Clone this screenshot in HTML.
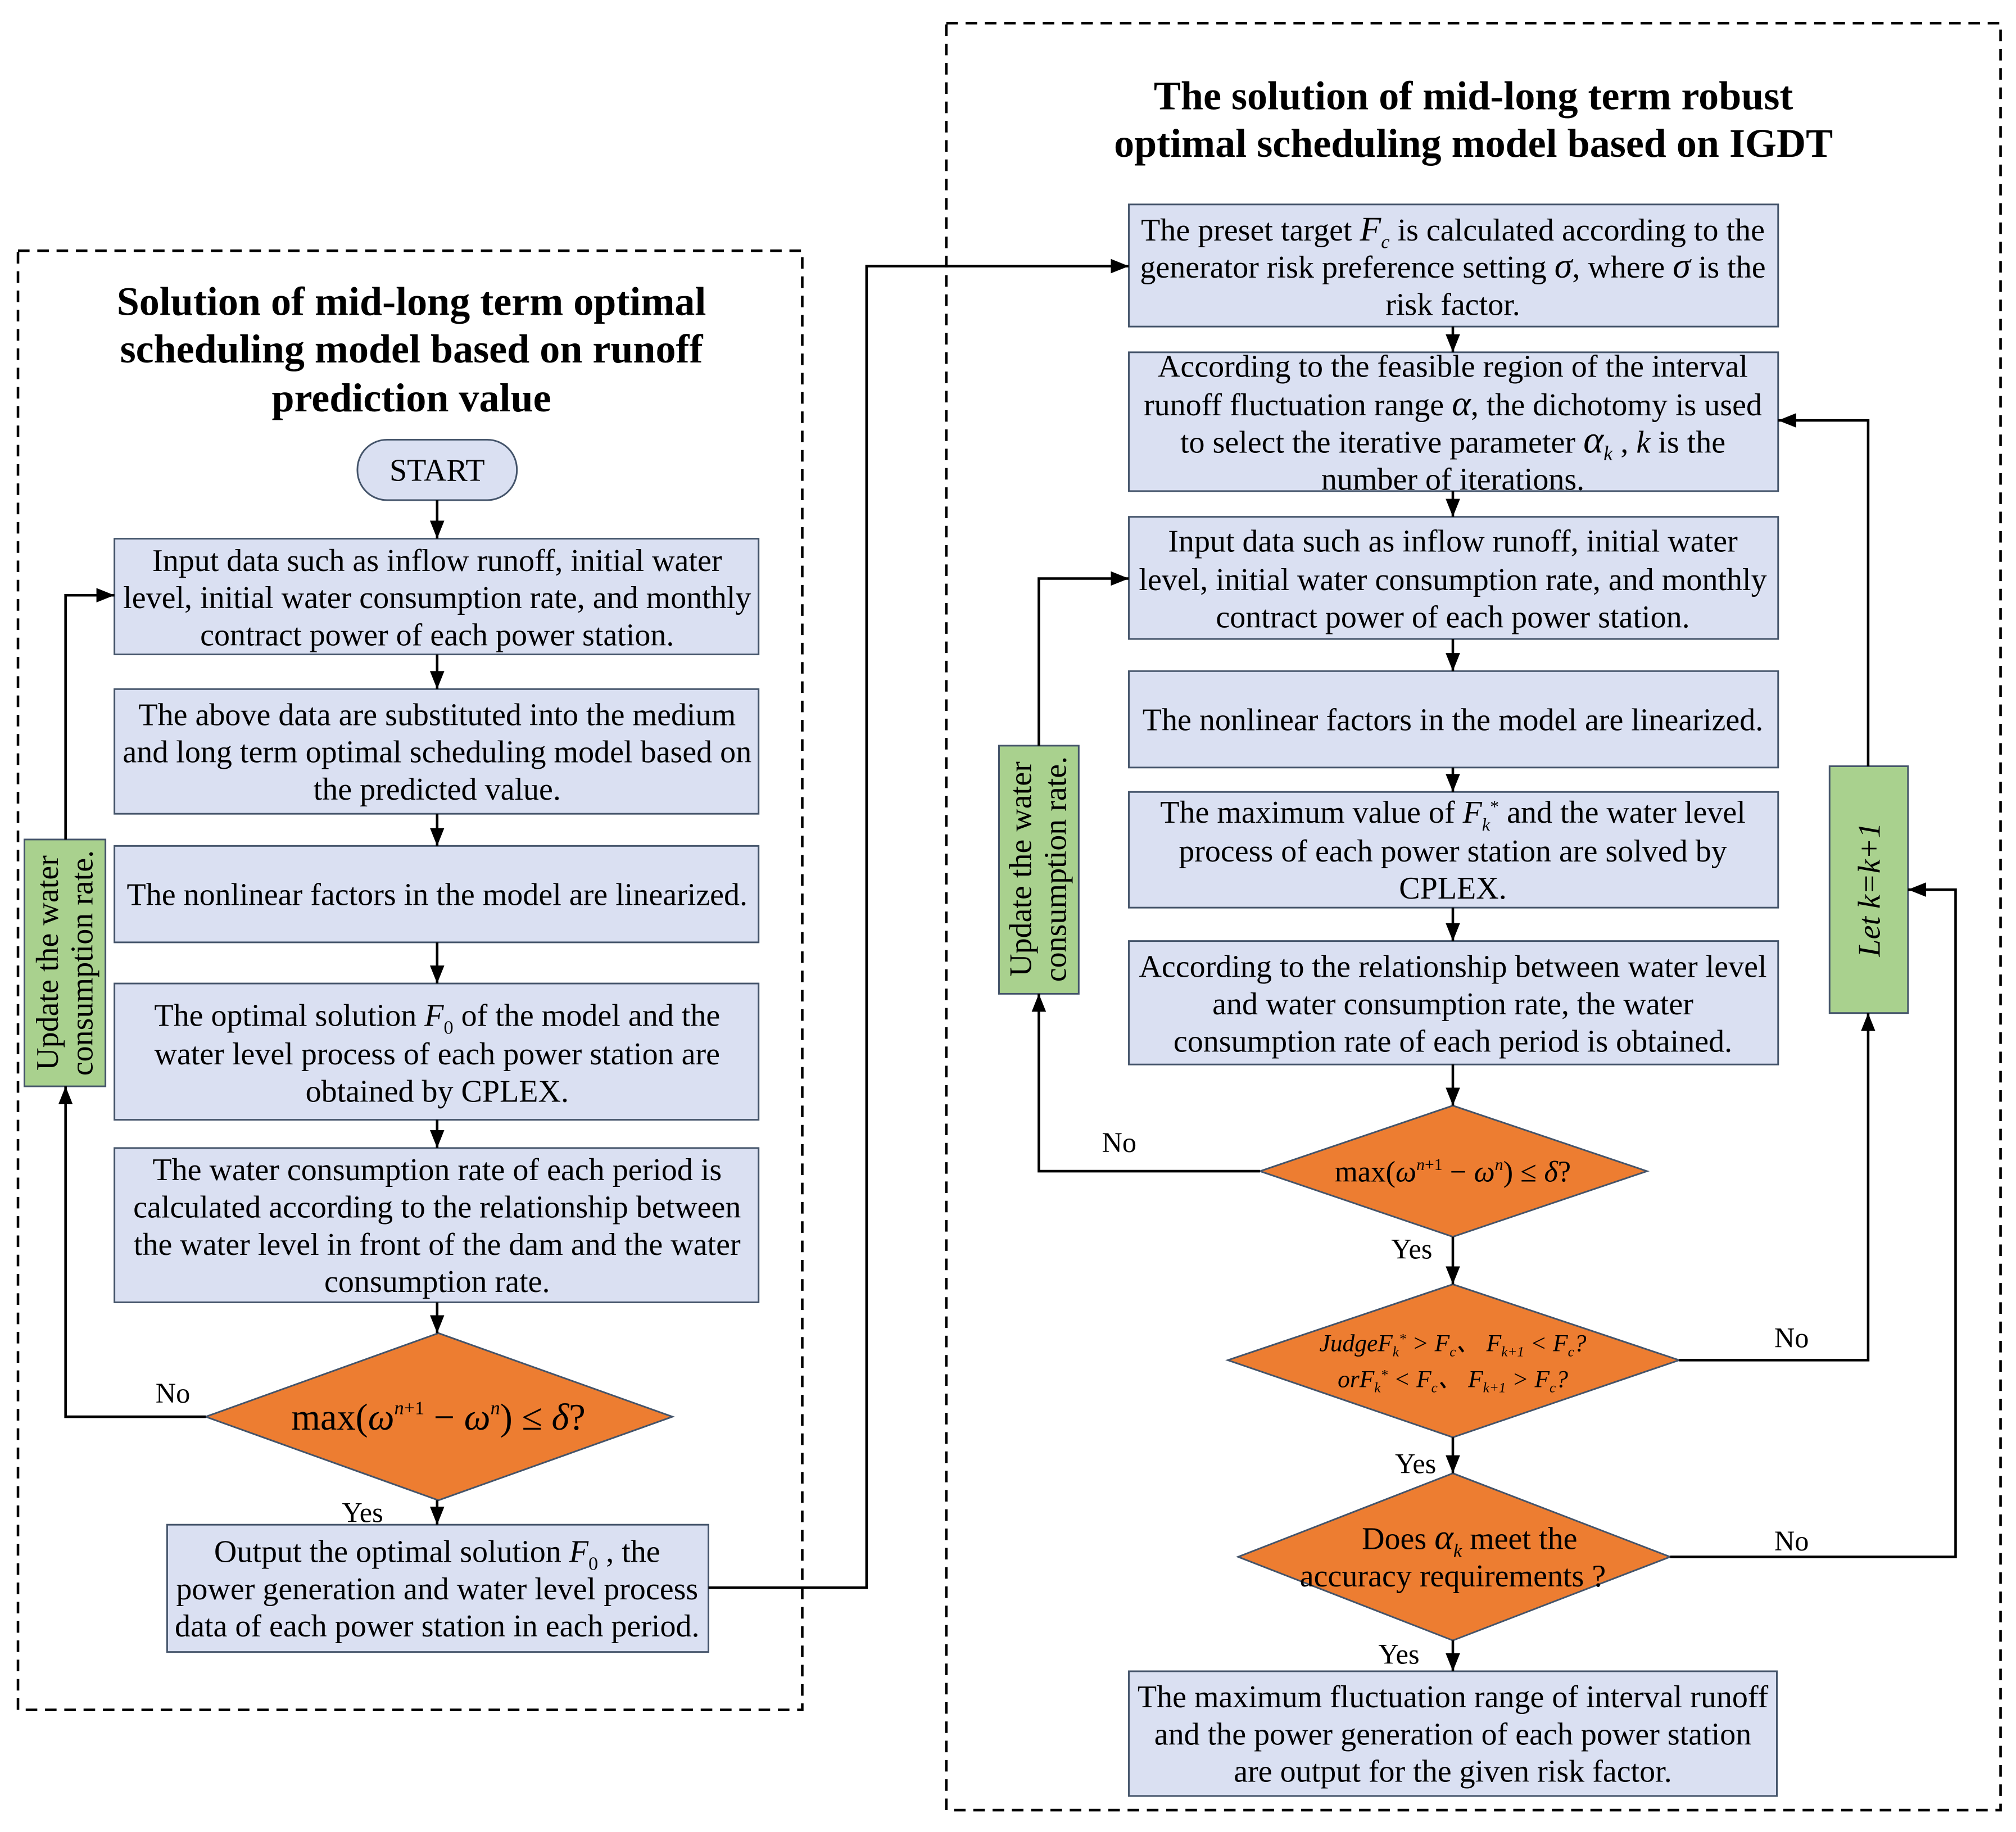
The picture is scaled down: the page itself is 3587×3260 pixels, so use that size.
<!DOCTYPE html>
<html><head><meta charset="utf-8"><style>
html,body{margin:0;padding:0;background:#fff}
svg{display:block}
text{font-family:"Liberation Serif",serif;fill:#000}
.t{font-size:24.5px}
.b{fill:#dae0f2;stroke:#44546a;stroke-width:1.3}
.o{fill:#ed7d31;stroke:#44546a;stroke-width:1.3}
.g{fill:#a9d18e;stroke:#44546a;stroke-width:1.3}
.l{fill:none;stroke:#000;stroke-width:2}
.h{font-size:31.5px;font-weight:bold}
</style></head><body>
<svg width="3587" height="3260" viewBox="0 0 1568 1425" xmlns="http://www.w3.org/2000/svg">
<defs><marker id="a" viewBox="0 0 10 10" refX="10" refY="5" markerWidth="7" markerHeight="7" orient="auto"><path d="M0,1 L10,5 L0,9 z" fill="#000"/></marker></defs>
<rect x="14" y="195" width="610" height="1135" fill="none" stroke="#000" stroke-width="2" stroke-dasharray="9,6"/>
<rect x="736" y="18" width="820" height="1390" fill="none" stroke="#000" stroke-width="2" stroke-dasharray="9,6"/>
<g text-anchor="middle">
<text class="h" x="320" y="245">Solution of mid-long term optimal</text>
<text class="h" x="320" y="282">scheduling model based on runoff</text>
<text class="h" x="320" y="320">prediction value</text>
<text class="h" x="1146" y="85">The solution of mid-long term robust</text>
<text class="h" x="1146" y="122">optimal scheduling model based on IGDT</text>

<rect x="278" y="342" width="124" height="47" rx="23" class="b"/>
<text class="t" x="340" y="374">START</text>
<rect x="89" y="419" width="501" height="90" class="b"/>
<text class="t" x="340" y="444">Input data such as inflow runoff, initial water</text>
<text class="t" x="340" y="473">level, initial water consumption rate, and monthly</text>
<text class="t" x="340" y="502">contract power of each power station.</text>
<rect x="89" y="536" width="501" height="97" class="b"/>
<text class="t" x="340" y="564">The above data are substituted into the medium</text>
<text class="t" x="340" y="593">and long term optimal scheduling model based on</text>
<text class="t" x="340" y="622">the predicted value.</text>
<rect x="89" y="658" width="501" height="75" class="b"/>
<text class="t" x="340" y="704">The nonlinear factors in the model are linearized.</text>
<rect x="89" y="765" width="501" height="106" class="b"/>
<text class="t" x="340" y="798">The optimal solution <tspan font-style="italic">F</tspan><tspan font-size="15" dy="6">0</tspan><tspan dy="-6">  of the model and the</tspan></text>
<text class="t" x="340" y="828">water level process of each power station are</text>
<text class="t" x="340" y="857">obtained by CPLEX.</text>
<rect x="89" y="893" width="501" height="120" class="b"/>
<text class="t" x="340" y="918">The water consumption rate of each period is</text>
<text class="t" x="340" y="947">calculated according to the relationship between</text>
<text class="t" x="340" y="976">the water level in front of the dam and the water</text>
<text class="t" x="340" y="1005">consumption rate.</text>
<polygon points="341,1037 523,1102 341,1167 160,1102" class="o"/>
<text x="341" y="1112" font-size="29">max(<tspan font-style="italic">ω</tspan><tspan font-size="15" dy="-12" font-style="italic">n</tspan><tspan font-size="15">+1</tspan><tspan dy="12"> − </tspan><tspan font-style="italic">ω</tspan><tspan font-size="15" dy="-12" font-style="italic">n</tspan><tspan dy="12">) ≤ </tspan><tspan font-style="italic">δ</tspan>?</text>
<rect x="130" y="1186" width="421" height="99" class="b"/>
<text class="t" x="340" y="1215">Output the optimal solution <tspan font-style="italic">F</tspan><tspan font-size="15" dy="6">0</tspan><tspan dy="-6"> , the</tspan></text>
<text class="t" x="340" y="1244">power generation and water level process</text>
<text class="t" x="340" y="1273">data of each power station in each period.</text>

<rect x="19" y="653" width="63" height="192" class="g"/>
<text class="t" transform="translate(45,749) rotate(-90)">Update the water</text>
<text class="t" transform="translate(72,749) rotate(-90)">consumption rate.</text>
<rect x="777" y="580" width="62" height="193" class="g"/>
<text class="t" transform="translate(802,676) rotate(-90)">Update the water</text>
<text class="t" transform="translate(829,676) rotate(-90)">consumption rate.</text>
<rect x="1423" y="596" width="61" height="192" class="g"/>
<text class="t" font-style="italic" transform="translate(1462,692) rotate(-90)">Let k=k+1</text>

<rect x="878" y="159" width="505" height="95" class="b"/>
<text class="t" x="1130" y="187">The preset target <tspan font-style="italic" font-size="27">F</tspan><tspan font-size="15" dy="6" font-style="italic">c</tspan><tspan dy="-6"> is calculated according to the</tspan></text>
<text class="t" x="1130" y="216">generator risk preference setting <tspan font-style="italic" font-size="28">σ</tspan>, where <tspan font-style="italic" font-size="28">σ</tspan> is the</text>
<text class="t" x="1130" y="245">risk factor.</text>
<rect x="878" y="274" width="505" height="108" class="b"/>
<text class="t" x="1130" y="293">According to the feasible region of the interval</text>
<text class="t" x="1130" y="323">runoff fluctuation range <tspan font-style="italic" font-size="28">α</tspan>, the dichotomy is used</text>
<text class="t" x="1130" y="352">to select the iterative parameter <tspan font-style="italic" font-size="30">α</tspan><tspan font-size="16" dy="6" font-style="italic">k</tspan><tspan dy="-6"> , </tspan><tspan font-style="italic">k</tspan> is the</text>
<text class="t" x="1130" y="381">number of iterations.</text>
<rect x="878" y="402" width="505" height="95" class="b"/>
<text class="t" x="1130" y="429">Input data such as inflow runoff, initial water</text>
<text class="t" x="1130" y="459">level, initial water consumption rate, and monthly</text>
<text class="t" x="1130" y="488">contract power of each power station.</text>
<rect x="878" y="522" width="505" height="75" class="b"/>
<text class="t" x="1130" y="568">The nonlinear factors in the model are linearized.</text>
<rect x="878" y="616" width="505" height="90" class="b"/>
<text class="t" x="1130" y="640">The maximum value of <tspan font-style="italic">F</tspan><tspan font-size="14" dy="6" font-style="italic">k</tspan><tspan font-size="14" dy="-14">*</tspan><tspan dy="8">  and the water level</tspan></text>
<text class="t" x="1130" y="670">process of each power station are solved by</text>
<text class="t" x="1130" y="699">CPLEX.</text>
<rect x="878" y="732" width="505" height="96" class="b"/>
<text class="t" x="1130" y="760">According to the relationship between water level</text>
<text class="t" x="1130" y="789">and water consumption rate, the water</text>
<text class="t" x="1130" y="818">consumption rate of each period is obtained.</text>
<polygon points="1130,860 1281,911 1130,962 980,911" class="o"/>
<text x="1130" y="919" font-size="23">max(<tspan font-style="italic">ω</tspan><tspan font-size="13" dy="-9" font-style="italic">n</tspan><tspan font-size="13">+1</tspan><tspan dy="9"> − </tspan><tspan font-style="italic">ω</tspan><tspan font-size="13" dy="-9" font-style="italic">n</tspan><tspan dy="9">) ≤ </tspan><tspan font-style="italic">δ</tspan>?</text>
<polygon points="1130,999 1306,1058 1130,1118 955,1058" class="o"/>
<text x="1130" y="1051" font-size="19" font-style="italic">JudgeF<tspan font-size="11" dy="4">k</tspan><tspan font-size="11" dy="-10">*</tspan><tspan dy="6"> &gt; F</tspan><tspan font-size="11" dy="4">c</tspan><tspan dy="-4">、 F</tspan><tspan font-size="11" dy="4">k+1</tspan><tspan dy="-4"> &lt; F</tspan><tspan font-size="11" dy="4">c</tspan><tspan dy="-4">?</tspan></text>
<text x="1130" y="1079" font-size="19" font-style="italic">orF<tspan font-size="11" dy="4">k</tspan><tspan font-size="11" dy="-10">*</tspan><tspan dy="6"> &lt; F</tspan><tspan font-size="11" dy="4">c</tspan><tspan dy="-4">、 F</tspan><tspan font-size="11" dy="4">k+1</tspan><tspan dy="-4"> &gt; F</tspan><tspan font-size="11" dy="4">c</tspan><tspan dy="-4">?</tspan></text>
<polygon points="1130,1146 1299,1211 1130,1276 963,1211" class="o"/>
<text class="t" x="1143" y="1205">Does <tspan font-style="italic" font-size="28">α</tspan><tspan font-size="15" dy="6" font-style="italic">k</tspan><tspan dy="-6"> meet the</tspan></text>
<text class="t" x="1130" y="1234">accuracy requirements ?</text>
<rect x="878" y="1300" width="504" height="97" class="b"/>
<text class="t" x="1130" y="1328">The maximum fluctuation range of interval runoff</text>
<text class="t" x="1130" y="1357">and the power generation of each power station</text>
<text class="t" x="1130" y="1386">are output for the given risk factor.</text>
</g>
<g font-size="22">
<text x="121" y="1091">No</text>
<text x="266" y="1184">Yes</text>
<text x="857" y="896">No</text>
<text x="1082" y="979">Yes</text>
<text x="1085" y="1146">Yes</text>
<text x="1072" y="1294">Yes</text>
<text x="1380" y="1048">No</text>
<text x="1380" y="1206">No</text>
</g>
<g class="l">
<line x1="340" y1="389" x2="340" y2="419" marker-end="url(#a)"/>
<line x1="340" y1="509" x2="340" y2="536" marker-end="url(#a)"/>
<line x1="340" y1="633" x2="340" y2="658" marker-end="url(#a)"/>
<line x1="340" y1="733" x2="340" y2="765" marker-end="url(#a)"/>
<line x1="340" y1="871" x2="340" y2="893" marker-end="url(#a)"/>
<line x1="340" y1="1013" x2="340" y2="1037" marker-end="url(#a)"/>
<line x1="340" y1="1167" x2="340" y2="1186" marker-end="url(#a)"/>
<polyline points="160,1102 51,1102 51,845" marker-end="url(#a)"/>
<polyline points="51,653 51,463 89,463" marker-end="url(#a)"/>
<polyline points="551,1235 674,1235 674,207 878,207" marker-end="url(#a)"/>
<line x1="1130" y1="254" x2="1130" y2="274" marker-end="url(#a)"/>
<line x1="1130" y1="382" x2="1130" y2="402" marker-end="url(#a)"/>
<line x1="1130" y1="497" x2="1130" y2="522" marker-end="url(#a)"/>
<line x1="1130" y1="597" x2="1130" y2="616" marker-end="url(#a)"/>
<line x1="1130" y1="706" x2="1130" y2="732" marker-end="url(#a)"/>
<line x1="1130" y1="828" x2="1130" y2="860" marker-end="url(#a)"/>
<line x1="1130" y1="962" x2="1130" y2="999" marker-end="url(#a)"/>
<line x1="1130" y1="1118" x2="1130" y2="1146" marker-end="url(#a)"/>
<line x1="1130" y1="1276" x2="1130" y2="1300" marker-end="url(#a)"/>
<polyline points="980,911 808,911 808,773" marker-end="url(#a)"/>
<polyline points="808,580 808,450 878,450" marker-end="url(#a)"/>
<polyline points="1306,1058 1453,1058 1453,788" marker-end="url(#a)"/>
<polyline points="1453,596 1453,327 1383,327" marker-end="url(#a)"/>
<polyline points="1299,1211 1521,1211 1521,692 1484,692" marker-end="url(#a)"/>
</g>
</svg>
</body></html>
